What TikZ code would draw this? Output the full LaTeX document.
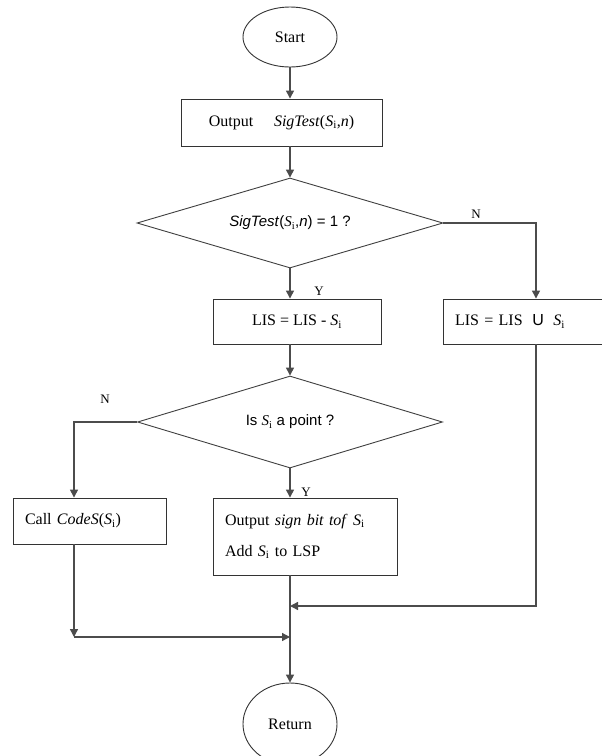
\documentclass[tikz,border=0pt]{standalone}
\usepackage{fontspec}
\setmainfont{Liberation Serif}
\newfontfamily\sansfont{Liberation Sans}
\usetikzlibrary{shapes.geometric,arrows.meta}
% set S_i in serif italic with an upright subscript
\newcommand\Si{{\rmfamily\textit{S}\textsubscript{\upshape i}}}
\begin{document}
\begin{tikzpicture}[x=1pt,y=-1pt,
  every node/.style={font=\fontsize{16}{18}\selectfont},
  box/.style={draw=black!80,line width=0.9pt,rectangle,inner sep=0pt},
  lbox/.style={box,align=left,inner xsep=12pt},
  term/.style={draw=black!80,line width=0.9pt,ellipse,inner sep=0pt,minimum width=94pt},
  test/.style={draw=black!75,line width=0.9pt,diamond,inner sep=0pt,shape aspect=3.4,
    font=\sansfont\fontsize{15}{17}\selectfont},
  flow/.style={draw=black!70,line width=1.3pt,-{Triangle[length=8pt,width=8pt]}},
  lbl/.style={font=\fontsize{13}{15}\selectfont,inner sep=0pt}]
\useasboundingbox (0,0) rectangle (602,756);
\fill[white] (0,0) rectangle (602,756);

% nodes
\node[term,minimum height=60pt] (start) at (290,37) {Start};
\node[box,minimum width=201pt,minimum height=47pt] (out1) at (281.5,122.5)
  {Output\hspace{1.3em}\textit{SigTest}(\Si,\textit{n})};
\node[test,minimum width=306pt,minimum height=90pt] (d1) at (290,223)
  {\textit{SigTest}(\Si,\textit{n}) = 1 ?};
\node[box,minimum width=168pt,minimum height=45pt] (lis1) at (297,321.5)
  {LIS = LIS - \Si};
\node[lbox,text width=162pt,minimum height=45pt] (lis2) at (536,321.5)
  {LIS = LIS\hspace{0.6em}{\sansfont U}\hspace{0.6em}\Si};
\node[test,minimum width=305pt,minimum height=92pt] (d2) at (290,422)
  {Is \Si\ a point ?};
\node[lbox,text width=129pt,minimum height=46pt] (call) at (89.5,521)
  {Call \textit{CodeS}(\Si)};
\node[lbox,text width=160pt,minimum height=77pt,font=\fontsize{16}{31}\selectfont] (out2) at (305,536.5)
  {Output \textit{sign bit tof} \Si\\Add \Si\ to LSP};
\node[term,minimum height=82pt] (ret) at (290,724) {Return};

% junction points
\coordinate (j1) at (290,606);
\coordinate (c1) at (74,637);
\coordinate (j2) at (290,637);

% connectors
\draw[flow] (start.south) -- (start.south |- out1.north);
\draw[flow] (start.south |- out1.south) -- (d1.north);
\draw[flow] (d1.east) -| (lis2.north);
\draw[flow] (d1.south) -- (d1.south |- lis1.north);
\draw[flow] (d2.north |- lis1.south) -- (d2.north);
\draw[flow] (d2.west) -| ([xshift=-15.5pt]call.north);
\draw[flow] (d2.south) -- (d2.south |- out2.north);
\draw[flow] (lis2.south) |- (j1);
\draw[flow] ([xshift=-15.5pt]call.south) -- (c1);
\draw[flow] (c1) -- (j2);
\draw[flow] (d2.south |- out2.south) -- (ret.north);

% branch labels
\node[lbl] (n1) at (476,214) {N};
\node[lbl] (y1) at (319,291) {Y};
\node[lbl] (n2) at (105,399) {N};
\node[lbl] (y2) at (306,492) {Y};
\end{tikzpicture}
\end{document}
